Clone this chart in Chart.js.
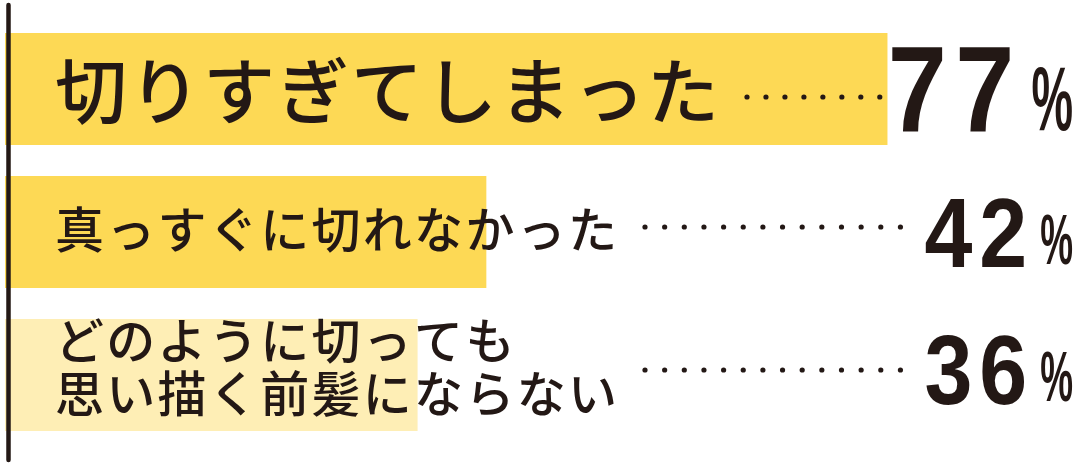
<!DOCTYPE html>
<html lang="ja">
<head>
<meta charset="utf-8">
<script src="https://cdn.jsdelivr.net/npm/chart.js@4"></script>
<style>
  html, body { margin: 0; padding: 0; background: #ffffff; }
  #wrap { width: 1080px; height: 467px; position: relative; }
</style>
</head>
<body>
<div id="wrap"><canvas id="c"></canvas></div>
<script>
// ---- data ----
const categories = [
  '切りすぎてしまった',
  '真っすぐに切れなかった',
  ['どのように切っても', '思い描く前髪にならない']
];
const values = [77, 42, 36];
const unit = '%';

// ---- style ----
const INK = '#231815';
const BAR_COLORS = ['#FDD955', '#FDD955', '#FEEEB5'];

function measureSpaced(ctx, text, sp, k) {
  let w = 0;
  const chars = Array.from(text);
  chars.forEach((ch, i) => {
    w += ctx.measureText(ch).width * k;
    if (i < chars.length - 1) w += sp;
  });
  return w;
}
function drawSpaced(ctx, text, x, y, sp, k) {
  const x0 = x;
  const chars = Array.from(text);
  chars.forEach((ch, i) => {
    ctx.save();
    ctx.translate(x, y);
    ctx.scale(k, 1);
    ctx.fillText(ch, 0, 0);
    ctx.restore();
    x += ctx.measureText(ch).width * k;
    if (i < chars.length - 1) x += sp;
  });
  return x - x0;
}

const overlay = {
  id: 'overlay',
  afterDatasetsDraw(chart) {
    const ctx = chart.ctx;
    const area = chart.chartArea;
    const meta = chart.getDatasetMeta(0);
    ctx.save();
    // vertical axis line
    ctx.strokeStyle = INK;
    ctx.lineWidth = 4.5;
    ctx.lineCap = 'round';
    ctx.beginPath();
    ctx.moveTo(area.left + 3.5, area.top - 12.5);
    ctx.lineTo(area.left + 3.5, area.bottom + 13.5);
    ctx.stroke();

    meta.data.forEach((bar, i) => {
      const big = i === 0;
      const cy = bar.y;
      const lab = categories[i];
      const lines = Array.isArray(lab) ? lab : [lab];
      const multi = lines.length > 1;

      // category label inside bar
      const fs = big ? 72 : 49;
      const sp = big ? 2 : 2.3;
      ctx.font = `500 ${fs}px "Noto Sans CJK JP", "Noto Sans CJK SC", sans-serif`;
      ctx.fillStyle = INK;
      ctx.textAlign = 'left';
      ctx.textBaseline = 'middle';
      const mid = cy + (multi ? -8.5 : (big ? 2 : -2.5));
      const lh = 53;
      let labelEnd = 0;
      const lx = area.left + 50;
      lines.forEach((ln, j) => {
        const y = mid + (j - (lines.length - 1) / 2) * lh;
        const w = drawSpaced(ctx, ln, lx, y, sp, 1);
        labelEnd = Math.max(labelEnd, lx + w);
      });

      // value text
      ctx.textBaseline = 'alphabetic';
      const S = big ? 122 : 99;
      const base = cy - (multi ? 6.5 : 0.5) + 0.358 * S;
      const pS = big ? 90 : 71;
      const right = chart.width - 7;
      ctx.font = `bold ${pS}px "Liberation Sans", Arial, sans-serif`;
      const pk = 0.52;
      const pw = measureSpaced(ctx, unit, 0, pk);
      drawSpaced(ctx, unit, right - pw, base - (big ? 2 : 3), 0, pk);
      ctx.font = `bold ${S}px "Liberation Sans", Arial, sans-serif`;
      const numStr = String(values[i]);
      const nsp = 0.07 * S, nk = 0.87;
      const nw = measureSpaced(ctx, numStr, nsp, nk);
      const gap = big ? 17 : 13;
      const nl = right - pw - gap - nw;
      drawSpaced(ctx, numStr, nl, base, nsp, nk);

      // dotted leader
      const dy = cy + (big ? 8 : -5);
      const ds = labelEnd + 28;
      const de = nl - (big ? 8 : 24);
      const n = Math.max(1, Math.round((de - ds) / 19));
      const step = (de - ds) / n;
      ctx.fillStyle = INK;
      for (let d = 0; d <= n; d++) {
        ctx.beginPath();
        ctx.arc(ds + d * step, dy, 2.6, 0, Math.PI * 2);
        ctx.fill();
      }
    });
    ctx.restore();
  }
};

new Chart(document.getElementById('c'), {
  type: 'bar',
  data: {
    labels: categories,
    datasets: [{
      data: values,
      backgroundColor: BAR_COLORS,
      borderWidth: 0,
      categoryPercentage: 1,
      barPercentage: 112 / 143
    }]
  },
  options: {
    indexAxis: 'y',
    responsive: true,
    maintainAspectRatio: false,
    animation: false,
    layout: { padding: { left: 5, right: 0, top: 17.5, bottom: 20.5 } },
    scales: {
      x: { display: false, min: 0, max: 93.8 },
      y: { display: false }
    },
    plugins: {
      legend: { display: false },
      tooltip: { enabled: false }
    }
  },
  plugins: [overlay]
});
</script>
</body>
</html>
